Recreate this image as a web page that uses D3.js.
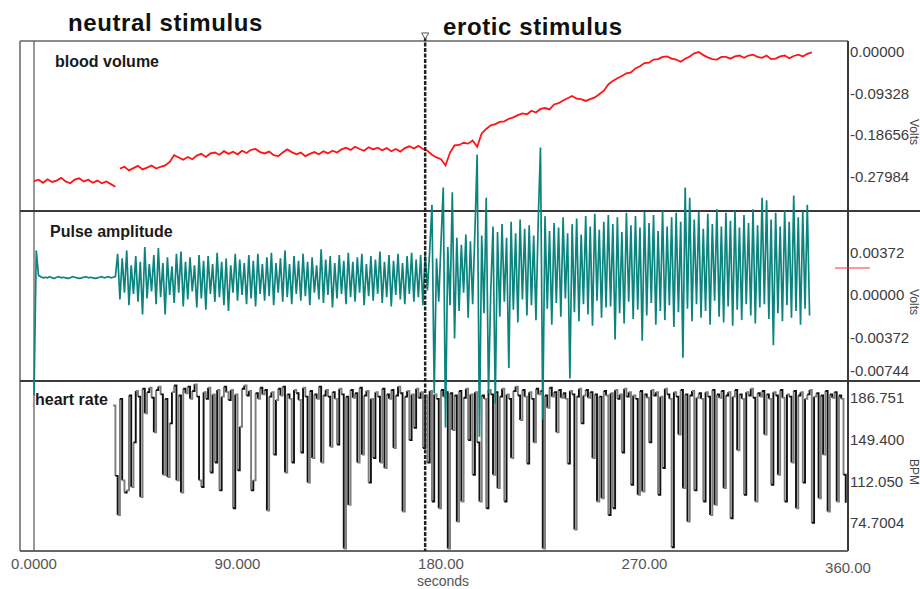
<!DOCTYPE html>
<html>
<head>
<meta charset="utf-8">
<script src="https://cdn.jsdelivr.net/npm/d3@7"></script>
<style>
  body { margin: 0; background: #fff; }
  svg { display: block; font-family: Arial, "Liberation Sans", sans-serif; }
</style>
</head>
<body>
<script>
// ---- data ----
// blood volume, volts, one sample every 2 s; trace has a break at ~37 s
const bvStep = 2;
const bloodVolumeA = [ // 0 .. 36 s
  -0.290, -0.287, -0.294, -0.286, -0.292, -0.289, -0.283, -0.291, -0.295, -0.287,
  -0.284, -0.291, -0.287, -0.294, -0.289, -0.295, -0.291, -0.297, -0.303
];
const bvStartB = 38;
const bloodVolumeB = [ // 38 .. 344 s
  -0.262, -0.258, -0.266, -0.261, -0.256, -0.264, -0.260, -0.255, -0.262, -0.258,
  -0.255, -0.247, -0.232, -0.237, -0.242, -0.236, -0.241, -0.233, -0.229, -0.236,
  -0.228, -0.226, -0.231, -0.223, -0.229, -0.224, -0.230, -0.222, -0.227, -0.220,
  -0.218, -0.225, -0.228, -0.224, -0.232, -0.234, -0.226, -0.219, -0.225, -0.230,
  -0.226, -0.234, -0.229, -0.225, -0.230, -0.223, -0.228, -0.222, -0.226, -0.219,
  -0.215, -0.220, -0.213, -0.218, -0.222, -0.214, -0.219, -0.215, -0.221, -0.216,
  -0.223, -0.218, -0.224, -0.216, -0.212, -0.217, -0.211, -0.218, -0.222, -0.231,
  -0.237, -0.241, -0.255, -0.226, -0.210, -0.209, -0.204, -0.206, -0.199, -0.213,
  -0.183, -0.173, -0.165, -0.162, -0.157, -0.156, -0.150, -0.147, -0.142, -0.138,
  -0.140, -0.132, -0.136, -0.128, -0.126, -0.129, -0.118, -0.115, -0.109, -0.104,
  -0.099, -0.105, -0.106, -0.110, -0.106, -0.102, -0.095, -0.087, -0.073, -0.065,
  -0.059, -0.054, -0.048, -0.046, -0.037, -0.032, -0.025, -0.024, -0.017, -0.016,
  -0.011, -0.010, -0.015, -0.017, -0.022, -0.015, -0.010, -0.003, 0.000, -0.007,
  -0.012, -0.016, -0.017, -0.011, -0.011, -0.015, -0.010, -0.008, -0.013, -0.008,
  -0.006, -0.011, -0.013, -0.008, -0.016, -0.015, -0.010, -0.008, -0.014, -0.009,
  -0.006, -0.010, -0.004, -0.001
];

// pulse amplitude, millivolts, one sample per second from 0 s
const pulseStep = 1;
const pulseAmplitudeMv = [
  -8.8, 3.9, 1.7, 1.6, 1.5, 1.55, 1.5, 1.6, 1.5, 1.45,
  1.55, 1.6, 1.5, 1.55, 1.5, 1.45, 1.5, 1.6, 1.55, 1.5,
  1.45, 1.5, 1.55, 1.6, 1.5, 1.55, 1.5, 1.45, 1.5, 1.55,
  1.6, 1.5, 1.55, 1.6, 1.5, 1.55, 1.6,
  // neutral stimulus
  3.6, -0.4, 3.2, 0.2, 3.9, -0.9, 2.6, 0.1, 3.4, -0.6, 2.9, -1.7, 4.2, -0.3, 2.7, 0.3, 3.5, -0.8, 4.1, -0.2,
  2.8, -1.7, 3.3, 0.0, 2.5, -0.7, 3.6, 0.2, 3.8, -1.0, 2.9, -0.4, 3.3, 0.3, 2.6, -1.1, 3.5, -0.3, 3.0, -1.3,
  3.4, 0.1, 2.7, -0.6, 3.7, -0.2, 2.9, -0.9, 3.2, -1.4, 2.6, 0.2, 3.6, -0.5, 3.1, 0.0, 2.8, -0.8, 3.5, -0.3,
  3.0, -1.0, 3.6, 0.1, 2.7, -0.5, 3.3, -0.1, 3.7, -0.9, 2.8, 0.2, 3.2, -0.6, 3.9, -0.2, 2.7, -0.8, 3.4, 0.1,
  3.0, -0.5, 3.6, -0.1, 2.9, -0.9, 3.3, 0.2, 2.6, -0.4, 4.0, -0.7, 3.1, 0.0, 3.4, -1.1, 2.8, -0.3, 3.5, 0.1,
  3.0, -0.8, 3.7, -0.2, 2.9, -0.6, 3.3, 0.2, 3.6, -0.9, 2.7, -0.1, 3.4, -0.5, 3.1, 0.1, 3.8, -0.7, 2.9, -0.2,
  3.5, -1.0, 3.0, 0.0, 3.6, -0.4, 2.8, -0.8, 3.4, 0.1, 3.7, -0.6, 3.1, -0.2, 3.5, -0.9,
  // erotic stimulus
  3.6, 0.4, 3.9, 7.9, -8.6, 3.2, -0.6, 4.6, 9.4, -11.6,
  4.2, -0.9, 9.0, -3.8, 5.0, -1.4, 4.4, 0.2, 5.3, -2.0,
  4.7, -0.8, 5.6, 12.3, -12.4, 5.2, -1.6, 8.5, -8.6, 0.3,
  6.0, -9.5, 5.5, -1.9, 6.2, -0.6, 5.0, -6.4, 6.4, -1.3,
  5.4, -2.4, 6.6, -0.4, 5.8, -1.8, 6.1, -0.9, 5.2, -2.2,
  6.5, 12.9, -10.9, 6.9, -1.2, 5.6, -2.6, 6.3, -0.7, 5.9,
  -1.9, 6.8, -0.3, 5.4, -7.3, 6.2, -1.5, 6.7, -2.3, 5.3,
  -0.8, 6.9, -1.7, 6.0, -2.7, 7.1, -0.5, 5.7, -2.0, 6.4,
  -1.1, 7.0, -1.0, 6.2, -3.9, 6.8, -1.6, 5.5, -2.5, 7.2,
  -0.6, 6.1, -2.1, 6.9, -1.3, 5.9, -4.0, 7.3, -1.8, 6.3,
  -0.7, 7.0, -2.6, 5.6, -1.4, 7.4, -2.2, 6.0, -0.9, 6.8,
  -2.8, 7.2, -1.5, 6.4, -5.5, 9.4, -1.2, 8.5, -2.3, 6.6,
  -0.8, 7.3, -2.0, 5.8, -1.4, 7.1, -2.6, 6.2, -0.5, 7.5,
  -1.9, 6.0, -2.4, 7.2, -1.0, 6.5, -2.7, 7.4, -1.3, 5.9,
  -2.2, 7.0, -0.8, 6.3, -1.8, 7.5, -2.5, 6.1, -1.1, 8.5,
  -0.8, 8.3, -2.1, 6.6, -4.4, 7.2, -1.6, 6.0, -2.3, 7.4,
  -0.9, 6.4, -2.0, 8.7, -1.4, 6.8, -2.6, 7.3, -1.2, 7.9,
  -1.8
];

// heart rate, BPM, one sample per second from 35 s
const hrStart = 35, hrStep = 1;
const heartRate = [
  180, 117, 82, 186, 113, 102, 104, 189, 107, 147,
  193, 188, 98, 195, 173, 192, 196, 187, 156, 194,
  197, 190, 118, 186, 116, 164, 192, 198, 113, 189,
  102, 195, 191, 197, 186, 193, 199, 188, 113, 107,
  192, 186, 196, 120, 190, 129, 194, 104, 188, 197,
  192, 185, 194, 88, 190, 122, 161, 195, 198, 189,
  193, 104, 113, 191, 186, 196, 190, 194, 86, 188,
  192, 136, 185, 195, 189, 197, 120, 190, 186, 129,
  194, 191, 185, 138, 196, 188, 111, 193, 133, 190,
  186, 197, 129, 189, 194, 188, 143, 192, 186, 145,
  195, 190, 52, 188, 91, 194, 187, 191, 129, 196,
  136, 189, 193, 111, 186, 133, 192, 188, 129, 195,
  124, 190, 186, 194, 142, 189, 197, 191, 85, 188,
  193, 149, 190, 160, 195, 187, 192, 142, 189, 129,
  193, 94, 190, 186, 88, 194, 188, 192, 52, 191,
  158, 189, 76, 193, 94, 187, 195, 149, 190, 118,
  192, 147, 94, 189, 186, 88, 194, 190, 118, 192,
  106, 188, 195, 94, 190, 186, 133, 193, 197, 189,
  167, 194, 188, 128, 192, 186, 147, 195, 190, 193,
  52, 189, 178, 196, 188, 192, 156, 194, 187, 191,
  186, 128, 193, 190, 69, 188, 195, 164, 189, 194,
  187, 192, 133, 190, 94, 188, 97, 193, 189, 82,
  191, 88, 194, 186, 190, 138, 195, 188, 192, 109,
  189, 186, 100, 193, 103, 190, 187, 147, 194, 189,
  192, 100, 188, 124, 195, 190, 186, 53, 192, 188,
  154, 194, 106, 190, 76, 189, 193, 104, 187, 191,
  186, 94, 192, 188, 82, 194, 91, 190, 187, 193,
  106, 189, 192, 79, 188, 194, 140, 190, 186, 100,
  192, 189, 195, 187, 94, 191, 188, 193, 154, 190,
  186, 109, 192, 189, 118, 194, 187, 94, 190, 188,
  129, 193, 88, 189, 192, 111, 186, 190, 194, 75,
  188, 191, 97, 189, 136, 193, 85, 190, 187, 192,
  94, 189, 186, 118, 93
];

const stimulusOnset = 173; // seconds, dashed marker
const phaseTitles = ["neutral stimulus", "erotic stimulus"];
const panelNames = ["blood volume", "Pulse amplitude", "heart rate"];
const panelUnits = ["Volts", "Volts", "BPM"];

const bloodTicks = [0, -0.09328, -0.18656, -0.27984];
const bloodTickLabels = ["0.00000", "-0.09328", "-0.18656", "-0.27984"];
const pulseTicks = [0.00372, 0, -0.00372, -0.00744];
const pulseTickLabels = ["0.00372", "0.00000", "-0.00372", "-0.00744"];
const heartTicks = [186.751, 149.4, 112.05, 74.7004];
const heartTickLabels = ["186.751", "149.400", "112.050", "74.7004"];
const timeTicks = [0, 90, 180, 270, 360];
const timeTickLabels = ["0.0000", "90.000", "180.00", "270.00", "360.00"];
const pulseMarker = 0.00236; // red level marker beside the pulse axis

// ---- layout ----
const width = 920, height = 589;
const frame = { left: 20, top: 41, right: 848, bottom: 551 };
const panels = [[41, 211], [211, 381], [381, 551]];

const svg = d3.select("body").append("svg")
  .attr("width", width)
  .attr("height", height);

const x = d3.scaleLinear().domain([0, 360]).range([34, frame.right]);
const yBlood = d3.scaleLinear().domain([-0.3574, 0.0247]).range([panels[0][1], panels[0][0]]);
const yPulse = d3.scaleLinear().domain([-0.00753, 0.00735]).range([panels[1][1], panels[1][0]]);
const yHeart = d3.scaleLinear().domain([49.7, 202]).range([panels[2][1], panels[2][0]]);

svg.append("defs").append("clipPath").attr("id", "clip-hr")
  .append("rect")
  .attr("x", frame.left).attr("y", panels[2][0] + 1)
  .attr("width", frame.right - frame.left).attr("height", panels[2][1] - panels[2][0] - 1);

// time zero line
svg.append("line")
  .attr("x1", x(0)).attr("x2", x(0))
  .attr("y1", frame.top).attr("y2", frame.bottom)
  .attr("stroke", "#777").attr("stroke-width", 1.5);

// heart rate (step trace, alternating grey/black like the scanned print)
const hrPts = heartRate.map((v, i) => [hrStart + i * hrStep, v]);
const hrLine = d3.line().x(d => x(d[0])).y(d => yHeart(d[1])).curve(d3.curveStepAfter);
const hrG = svg.append("g").attr("clip-path", "url(#clip-hr)");
for (let i = 0; i < hrPts.length - 1; i++) {
  hrG.append("path")
    .attr("d", hrLine([hrPts[i], hrPts[i + 1]]))
    .attr("fill", "none")
    .attr("stroke", i % 2 ? "#111" : "#7d7d7d")
    .attr("stroke-width", 1.9);
}

// blood volume
const bloodLine = d3.line().x(d => x(d[0])).y(d => yBlood(d[1]));
[bloodVolumeA.map((v, i) => [i * bvStep, v]),
 bloodVolumeB.map((v, i) => [bvStartB + i * bvStep, v])].forEach(seg => {
  svg.append("path")
    .attr("d", bloodLine(seg))
    .attr("fill", "none")
    .attr("stroke", "#ff1414")
    .attr("stroke-width", 1.8);
});

// frame + panel dividers
const frameG = svg.append("g").attr("stroke", "#3a3a3a").attr("fill", "none");
frameG.append("line").attr("x1", frame.left).attr("x2", frame.right)
  .attr("y1", frame.top).attr("y2", frame.top).attr("stroke", "#666").attr("stroke-width", 1.5);
frameG.append("line").attr("x1", frame.left).attr("x2", frame.left)
  .attr("y1", frame.top).attr("y2", frame.bottom).attr("stroke", "#666").attr("stroke-width", 1.5);
frameG.append("line").attr("x1", frame.right).attr("x2", frame.right)
  .attr("y1", frame.top).attr("y2", frame.bottom).attr("stroke-width", 2);
frameG.append("line").attr("x1", frame.left).attr("x2", frame.right)
  .attr("y1", frame.bottom).attr("y2", frame.bottom).attr("stroke", "#666").attr("stroke-width", 2);
[panels[1][0], panels[2][0]].forEach(py => {
  frameG.append("line").attr("x1", frame.left).attr("x2", width)
    .attr("y1", py).attr("y2", py).attr("stroke-width", 2);
});

// pulse amplitude (not clipped: artefact spikes run across the panels)
const pulseLine = d3.line().x(d => x(d[0])).y(d => yPulse(d[1]));
svg.append("path")
  .attr("d", pulseLine(pulseAmplitudeMv.map((v, i) => [i * pulseStep, v / 1000])))
  .attr("fill", "none")
  .attr("stroke", "#0b847e")
  .attr("stroke-width", 1.7)
  .attr("stroke-linejoin", "bevel");

// stimulus onset marker
svg.append("line")
  .attr("x1", x(stimulusOnset)).attr("x2", x(stimulusOnset))
  .attr("y1", frame.top - 4).attr("y2", frame.bottom)
  .attr("stroke", "#222").attr("stroke-width", 2.5)
  .attr("stroke-dasharray", "4,1.5");
svg.append("path")
  .attr("d", d3.symbol(d3.symbolTriangle, 22)())
  .attr("transform", `translate(${x(stimulusOnset)},${frame.top - 6}) rotate(180)`)
  .attr("fill", "#fff").attr("stroke", "#555").attr("stroke-width", 1);

// red level marker
svg.append("line")
  .attr("x1", frame.right - 13).attr("x2", frame.right + 22)
  .attr("y1", yPulse(pulseMarker)).attr("y2", yPulse(pulseMarker))
  .attr("stroke", "#ff3030").attr("stroke-width", 1);

// right-hand value labels
function valueLabels(ticks, labels, y, [top, bottom]) {
  svg.append("g").selectAll("text")
    .data(ticks)
    .join("text")
    .attr("x", frame.right + 2)
    .attr("y", d => Math.max(top + 8, Math.min(bottom - 10, y(d))))
    .attr("dy", "0.35em")
    .attr("font-size", 15)
    .attr("fill", "#3c3c3c")
    .text((d, i) => labels[i]);
}
valueLabels(bloodTicks, bloodTickLabels, yBlood, panels[0]);
valueLabels(pulseTicks, pulseTickLabels, yPulse, panels[1]);
valueLabels(heartTicks, heartTickLabels, yHeart, panels[2]);

// unit titles at the right edge
panelUnits.forEach((u, i) => {
  const cy = (panels[i][0] + panels[i][1]) / 2 + 6;
  svg.append("text")
    .attr("transform", `translate(910,${cy}) rotate(90)`)
    .attr("text-anchor", "middle")
    .attr("font-size", 12)
    .attr("fill", "#444")
    .text(u);
});

// time axis labels
svg.append("g").selectAll("text")
  .data(timeTicks)
  .join("text")
  .attr("x", d => x(d))
  .attr("y", (d, i) => i === timeTicks.length - 1 ? 573 : 569)
  .attr("text-anchor", "middle")
  .attr("font-size", 15)
  .attr("fill", "#555")
  .text((d, i) => timeTickLabels[i]);
svg.append("text")
  .attr("x", x(180) + 2).attr("y", 586)
  .attr("text-anchor", "middle")
  .attr("font-size", 14)
  .attr("fill", "#555")
  .text("seconds");

// panel names
const namePos = [[55, 67], [50, 237], [35, 405]];
panelNames.forEach((n, i) => {
  svg.append("text")
    .attr("x", namePos[i][0]).attr("y", namePos[i][1])
    .attr("font-size", 16).attr("font-weight", "bold")
    .attr("fill", "#1a1a1a")
    .text(n);
});

// phase titles
const titlePos = [[68, 31], [443, 35]];
phaseTitles.forEach((t, i) => {
  svg.append("text")
    .attr("x", titlePos[i][0]).attr("y", titlePos[i][1])
    .attr("font-size", 24).attr("font-weight", "bold")
    .attr("letter-spacing", 0.6)
    .attr("fill", "#111")
    .text(t);
});
</script>
</body>
</html>
